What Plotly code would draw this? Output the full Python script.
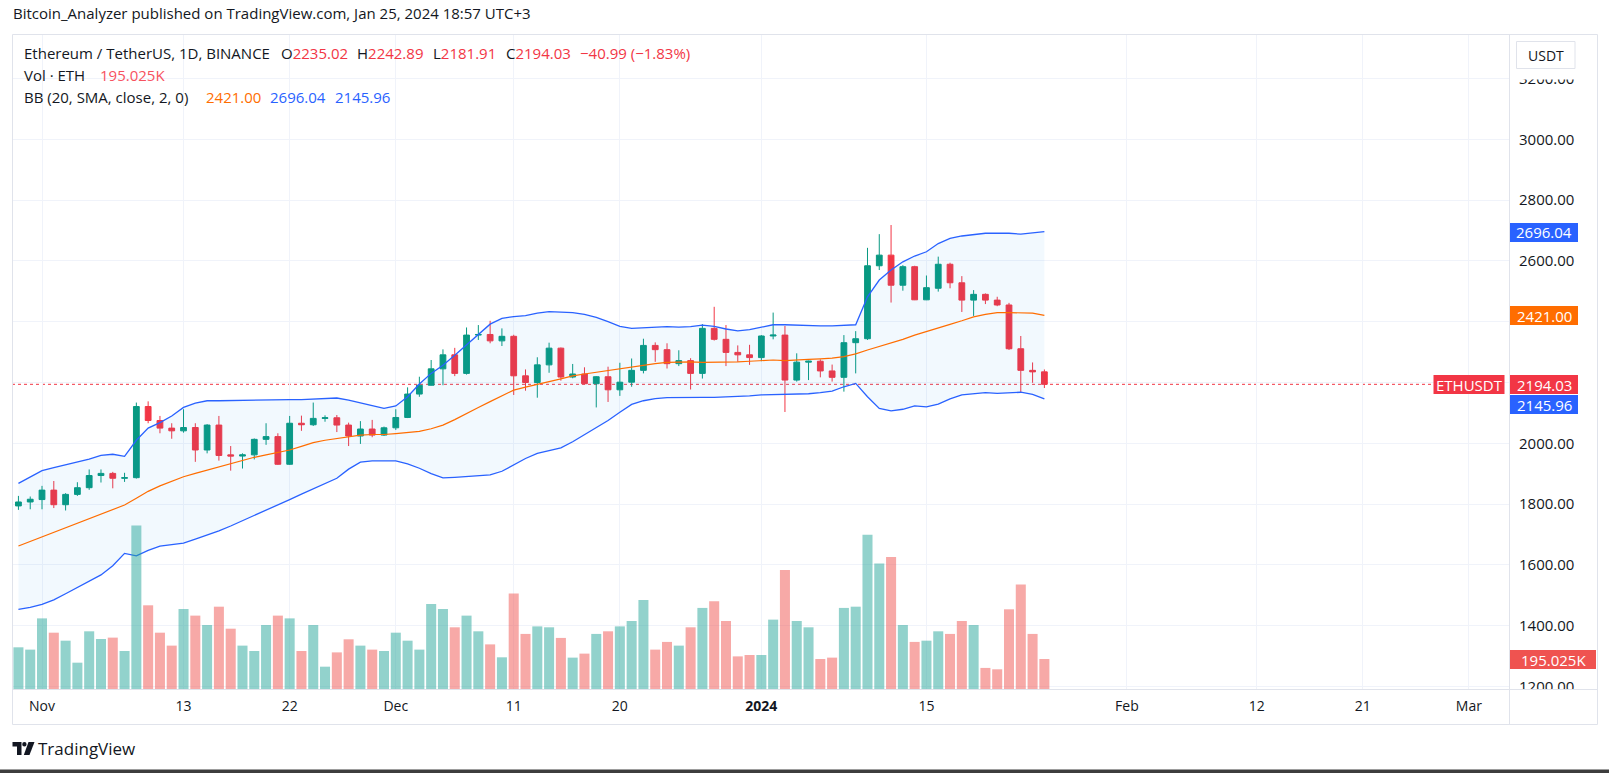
import plotly.graph_objects as go
import pandas as pd

# ---------------- data ----------------
dates = pd.date_range("2023-10-30", "2024-01-25", freq="D")

opens = [1794, 1807, 1815, 1846, 1798, 1832, 1854, 1894, 1901, 1885,
         1887, 2121, 2075, 2050, 2041, 2052, 1978, 2060, 1962, 1958,
         1962, 2013, 2022, 1931, 2066, 2061, 2082, 2084, 2060, 2024,
         2047, 2027, 2051, 2085, 2162, 2191, 2245, 2291, 2230, 2356,
         2358, 2337, 2352, 2222, 2200, 2258, 2313, 2218, 2228, 2196,
         2219, 2176, 2201, 2240, 2322, 2308, 2262, 2272, 2230, 2378,
         2342, 2299, 2291, 2282, 2353, 2356, 2208, 2267, 2270, 2238,
         2217, 2331, 2344, 2584, 2619, 2520, 2581, 2472, 2510, 2589,
         2528, 2471, 2490, 2471, 2455, 2311, 2240, 2235.02]
highs = [1827, 1825, 1860, 1876, 1836, 1872, 1914, 1914, 1906, 1903,
         2134, 2138, 2090, 2066, 2112, 2066, 2063, 2090, 1991, 1967,
         2016, 2066, 2033, 2090, 2091, 2134, 2092, 2093, 2068, 2073,
         2077, 2055, 2112, 2184, 2219, 2274, 2309, 2314, 2381, 2389,
         2403, 2378, 2357, 2243, 2283, 2331, 2315, 2261, 2250, 2221,
         2252, 2265, 2279, 2344, 2332, 2329, 2306, 2280, 2392, 2449,
         2389, 2322, 2324, 2356, 2430, 2386, 2296, 2272, 2276, 2259,
         2356, 2369, 2643, 2688, 2718, 2586, 2584, 2552, 2614, 2594,
         2550, 2504, 2493, 2482, 2462, 2353, 2266, 2242.89]
lows = [1781, 1783, 1783, 1787, 1779, 1827, 1847, 1871, 1852, 1873,
        1884, 2066, 2033, 2015, 2035, 1939, 1967, 1943, 1910, 1917,
        1947, 1995, 1929, 1929, 2041, 2057, 2071, 2037, 1991, 1998,
        2020, 2024, 2044, 2083, 2153, 2190, 2191, 2221, 2226, 2340,
        2329, 2320, 2159, 2173, 2150, 2232, 2206, 2214, 2194, 2118,
        2136, 2156, 2186, 2230, 2268, 2246, 2254, 2177, 2213, 2338,
        2254, 2268, 2258, 2270, 2342, 2103, 2203, 2208, 2217, 2203,
        2170, 2230, 2340, 2570, 2463, 2502, 2471, 2471, 2499, 2510,
        2432, 2419, 2458, 2451, 2307, 2166, 2199, 2181.91]
closes = [1807, 1816, 1846, 1798, 1832, 1854, 1894, 1901, 1885, 1887,
          2121, 2075, 2050, 2041, 2052, 1978, 2060, 1960, 1958, 1962,
          2013, 2022, 1931, 2066, 2061, 2082, 2084, 2060, 2024, 2047,
          2027, 2051, 2085, 2162, 2191, 2245, 2291, 2230, 2356, 2358,
          2337, 2352, 2222, 2200, 2258, 2313, 2218, 2228, 2196, 2219,
          2176, 2201, 2240, 2322, 2308, 2262, 2272, 2230, 2378, 2342,
          2299, 2291, 2282, 2353, 2356, 2208, 2267, 2270, 2238, 2217,
          2331, 2344, 2584, 2619, 2520, 2581, 2472, 2512, 2589, 2528,
          2471, 2490, 2471, 2455, 2311, 2240, 2235.02, 2194.03]
volume_k = [271, 256, 459, 366, 314, 171, 375, 325, 334, 247,
            1062, 544, 366, 282, 520, 477, 416, 535, 392, 282,
            247, 416, 477, 459, 247, 416, 145, 238, 323, 282,
            256, 247, 366, 314, 256, 553, 520, 401, 477, 375,
            290, 206, 620, 358, 407, 401, 332, 204, 230, 358,
            375, 407, 442, 579, 256, 306, 282, 401, 527, 570,
            442, 212, 221, 221, 451, 774, 442, 401, 195, 204,
            527, 535, 1003, 815, 858, 416, 306, 314, 375, 358,
            442, 416, 137, 128, 518, 680, 358, 195.025]
bb_upper = [1868, 1890, 1910, 1920, 1929, 1938, 1948, 1960, 1964, 1957,
            2010, 2050, 2068, 2090, 2118, 2132, 2140, 2140, 2141, 2142,
            2142, 2142, 2143, 2144, 2144, 2145, 2147, 2149, 2142, 2134,
            2124, 2115, 2123, 2153, 2195, 2230, 2257, 2290, 2323, 2358,
            2392, 2411, 2417, 2420, 2428, 2433, 2432, 2430, 2424, 2414,
            2400, 2385, 2378, 2380, 2384, 2384, 2382, 2384, 2389, 2385,
            2376, 2370, 2374, 2382, 2390, 2390, 2388, 2387, 2386, 2386,
            2387, 2390, 2482, 2537, 2570, 2597, 2616, 2630, 2657, 2674,
            2682, 2687, 2691, 2691, 2691, 2688, 2691, 2696.04]
bb_basis = [1662, 1677, 1692, 1707, 1722, 1737, 1752, 1767, 1782, 1797,
            1819, 1842, 1860, 1876, 1890, 1901, 1912, 1923, 1934, 1944,
            1954, 1962, 1970, 1978, 1990, 2002, 2010, 2016, 2022, 2027,
            2029, 2029, 2032, 2035, 2039, 2048, 2060, 2078, 2099, 2118,
            2137, 2155, 2175, 2185, 2193, 2203, 2212, 2222, 2228, 2234,
            2240, 2245, 2250, 2256, 2262, 2266, 2268, 2268, 2266, 2266,
            2267, 2268, 2270, 2273, 2274, 2272, 2275, 2276, 2278, 2280,
            2285, 2294, 2307, 2318, 2331, 2342, 2356, 2367, 2380, 2391,
            2403, 2416, 2424, 2430, 2430, 2428, 2428, 2421.00]
bb_lower = [1454, 1460, 1470, 1485, 1505, 1525, 1545, 1567, 1597, 1638,
            1630, 1648, 1662, 1668, 1672, 1685, 1698, 1712, 1728, 1745,
            1762, 1780, 1797, 1815, 1833, 1850, 1866, 1885, 1915, 1938,
            1942, 1943, 1942, 1932, 1918, 1900, 1886, 1888, 1890, 1893,
            1896, 1908, 1930, 1950, 1967, 1976, 1985, 2005, 2028, 2050,
            2075, 2102, 2128, 2140, 2147, 2150, 2151, 2151, 2151, 2151,
            2152, 2153, 2156, 2159, 2160, 2159, 2160, 2163, 2167, 2172,
            2186, 2197, 2153, 2115, 2107, 2112, 2123, 2120, 2129, 2146,
            2159, 2164, 2167, 2164, 2167, 2168, 2161, 2145.96]

tick_dates = ["2023-11-01", "2023-11-13", "2023-11-22", "2023-12-01", "2023-12-11",
              "2023-12-20", "2024-01-01", "2024-01-15", "2024-02-01", "2024-02-12",
              "2024-02-21", "2024-03-01"]
tick_text = ["Nov", "13", "22", "Dec", "11", "20", "<b>2024</b>", "15", "Feb", "12", "21", "Mar"]
price_ticks = [1200, 1400, 1600, 1800, 2000, 2200, 2400, 2600, 2800, 3000, 3200]
hidden_price_labels = [2200, 2400]  # covered by the price tags in the reference

# ---------------- styling ----------------
W, H = 1609, 773
ML, MR, MT, MB = 12, 100, 34, 84
PW, PH = W - ML - MR, H - MT - MB
GREEN, RED = "#089981", "#F23645"
VGREEN, VRED = "rgba(38,166,154,0.5)", "rgba(239,83,80,0.5)"
BLUE, ORANGE = "#2962FF", "#FF6D00"
TXT = "#131722"
BORDER = "#E0E3EB"
GRID = "#F0F3FA"
FONT = "Open Sans"


def px(x):
    return (x - ML) / PW


def py(y):
    return (H - MB - y) / PH


vol = [v * 1000 for v in volume_k]
vcolors = [VGREEN if c >= o else VRED for o, c in zip(opens, closes)]

fig = go.Figure()
fig.add_trace(go.Bar(x=dates, y=vol, marker=dict(color=vcolors, line=dict(width=0)),
                     yaxis="y2", hoverinfo="skip"))
fig.add_trace(go.Scatter(x=dates, y=bb_upper, mode="lines",
                         line=dict(color=BLUE, width=1.3), hoverinfo="skip"))
fig.add_trace(go.Scatter(x=dates, y=bb_lower, mode="lines", fill="tonexty",
                         fillcolor="rgba(33,150,243,0.06)",
                         line=dict(color=BLUE, width=1.3), hoverinfo="skip"))
fig.add_trace(go.Scatter(x=dates, y=bb_basis, mode="lines",
                         line=dict(color=ORANGE, width=1.2), hoverinfo="skip"))
fig.add_trace(go.Candlestick(
    x=dates, open=opens, high=highs, low=lows, close=closes,
    increasing=dict(line=dict(color=GREEN, width=1), fillcolor=GREEN),
    decreasing=dict(line=dict(color=RED, width=1), fillcolor=RED),
    whiskerwidth=0))

shapes = []
annotations = []
# last price dotted line
shapes.append(dict(type="line", xref="paper", yref="y", x0=0, x1=px(1433), y0=closes[-1],
                   y1=closes[-1], line=dict(color=RED, width=1, dash="dot"), layer="between"))
# covers for clipped axis labels
shapes.append(dict(type="rect", xref="paper", yref="paper", x0=px(1510), x1=px(1597),
                   y0=py(35), y1=py(79.5), fillcolor="white", line=dict(width=0), layer="above"))
shapes.append(dict(type="rect", xref="paper", yref="paper", x0=px(1510), x1=px(1597),
                   y0=py(690), y1=py(724), fillcolor="white", line=dict(width=0), layer="above"))
# frame
shapes.append(dict(type="rect", xref="paper", yref="paper", x0=px(12.5), x1=px(1597.5),
                   y0=py(34.5), y1=py(724.5), line=dict(color=BORDER, width=1), layer="above"))
shapes.append(dict(type="line", xref="paper", yref="paper", x0=px(1509.5), x1=px(1509.5),
                   y0=py(34.5), y1=py(724.5), line=dict(color=BORDER, width=1), layer="above"))
shapes.append(dict(type="line", xref="paper", yref="paper", x0=px(12.5), x1=px(1597.5),
                   y0=py(689.5), y1=py(689.5), line=dict(color=BORDER, width=1), layer="above"))
# USDT button
shapes.append(dict(type="rect", xref="paper", yref="paper", x0=px(1516.5), x1=px(1575),
                   y0=py(41.5), y1=py(68.5), fillcolor="white", line=dict(color=BORDER, width=1),
                   layer="above"))
# bottom bar
shapes.append(dict(type="rect", xref="paper", yref="paper", x0=px(0), x1=px(W),
                   y0=py(769.5), y1=py(H), fillcolor="#3d3d3d", line=dict(width=0), layer="above"))


def tag(x0, x1, yc, color, text, h=19):
    shapes.append(dict(type="rect", xref="paper", yref="paper", x0=px(x0), x1=px(x1),
                       y0=py(yc - h / 2), y1=py(yc + h / 2), fillcolor=color,
                       line=dict(width=0), layer="above"))
    annotations.append(dict(xref="paper", yref="paper", x=px((x0 + x1) / 2), y=py(yc),
                            text=text, showarrow=False, xanchor="center", yanchor="middle",
                            font=dict(family=FONT, size=15, color="white")))


tag(1510, 1578, 232.5, BLUE, "2696.04")
tag(1510, 1578, 315.5, ORANGE, "2421.00")
tag(1510, 1578, 384.5, RED, "2194.03")
tag(1510, 1578, 404.5, BLUE, "2145.96")
tag(1433.5, 1504.5, 384.5, RED, "ETHUSDT")
tag(1510, 1596, 659.5, "#EF5350", "195.025K")


def label(x, y, text, size=15, color=TXT):
    annotations.append(dict(xref="paper", yref="paper", x=px(x), y=py(y), text=text,
                            showarrow=False, xanchor="left", yanchor="middle",
                            font=dict(family=FONT, size=size, color=color)))


label(11, 13, "Bitcoin_Analyzer published on TradingView.com, Jan 25, 2024 18:57 UTC+3", 15)
label(22, 53, "Ethereum / TetherUS, 1D, BINANCE")
label(279, 53, f"O<span style='color:{RED}'>2235.02</span>")
label(355, 53, f"H<span style='color:{RED}'>2242.89</span>")
label(431, 53, f"L<span style='color:{RED}'>2181.91</span>")
label(504, 53, f"C<span style='color:{RED}'>2194.03</span>")
label(578, 53, "\u221240.99 (\u22121.83%)", color=RED)
label(22, 75, "Vol \u00b7 ETH")
label(98, 75, "195.025K", color="#F7525F")
label(22, 97, "BB (20, SMA, close, 2, 0)")
label(204, 97, "2421.00", color=ORANGE)
label(268, 97, "2696.04", color=BLUE)
label(333, 97, "2145.96", color=BLUE)
annotations.append(dict(xref="paper", yref="paper", x=px(1545.5), y=py(55), text="USDT",
                        showarrow=False, xanchor="center", yanchor="middle",
                        font=dict(family=FONT, size=14, color=TXT)))
label(36, 748.5, "TradingView", 17)

# TradingView logo
shapes.append(dict(type="path", xref="paper", yref="paper",
                   path=f"M{px(12.5)},{py(742)} L{px(21.5)},{py(742)} L{px(21.5)},{py(755)} "
                        f"L{px(17)},{py(755)} L{px(17)},{py(746.5)} L{px(12.5)},{py(746.5)} Z",
                   fillcolor=TXT, line=dict(width=0), layer="above"))
shapes.append(dict(type="circle", xref="paper", yref="paper", x0=px(22.2), x1=px(26.6),
                   y0=py(742), y1=py(746.4), fillcolor=TXT, line=dict(width=0), layer="above"))
shapes.append(dict(type="path", xref="paper", yref="paper",
                   path=f"M{px(28.5)},{py(742)} L{px(34.5)},{py(742)} L{px(29.5)},{py(755)} "
                        f"L{px(23.8)},{py(755)} Z",
                   fillcolor=TXT, line=dict(width=0), layer="above"))

fig.update_layout(
    width=W, height=H, margin=dict(l=ML, r=MR, t=MT, b=MB, pad=0),
    paper_bgcolor="white", plot_bgcolor="white",
    showlegend=False, bargap=0.15,
    font=dict(family=FONT, size=13, color=TXT),
    xaxis=dict(type="date", range=["2023-10-29 10:55", "2024-03-04 09:36"],
               tickvals=tick_dates, ticktext=tick_text, showgrid=True, gridcolor=GRID,
               gridwidth=1, zeroline=False, showline=False, ticks="",
               tickfont=dict(family=FONT, size=14, color=TXT), ticklabelstandoff=7,
               rangeslider=dict(visible=False)),
    yaxis=dict(range=[1191.8, 3346.4], side="right", tickvals=price_ticks,
               ticktext=["" if v in hidden_price_labels else f"{v:.2f}" for v in price_ticks],
               showgrid=True, gridcolor=GRID,
               zeroline=False, showline=False, ticks="", ticklabelstandoff=9,
               tickfont=dict(family=FONT, size=15, color=TXT)),
    yaxis2=dict(range=[0, 655 * 6500], overlaying="y", side="right", visible=False,
                showgrid=False),
    shapes=shapes, annotations=annotations,
)

fig.write_html("out.html", config={"displayModeBar": False},
               post_script="document.body.style.margin='0';document.body.style.overflow='hidden';")
